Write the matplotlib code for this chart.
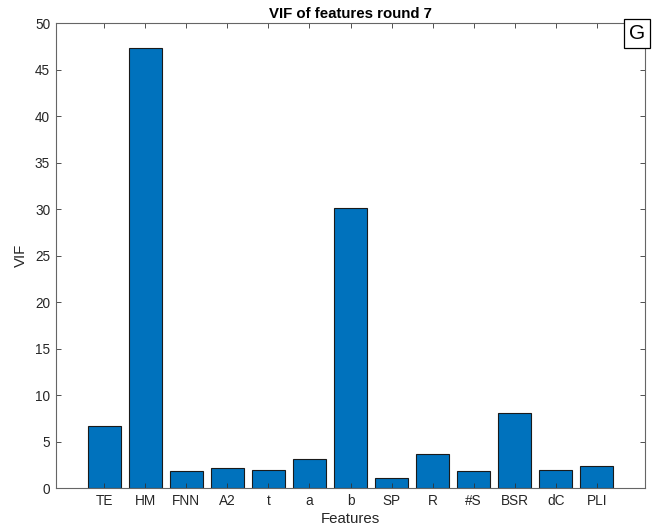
import numpy as np
import matplotlib
matplotlib.use("Agg")
import matplotlib.pyplot as plt

# VIF values per feature, round 7
features = ["TE", "HM", "FNN", "A2", "t", "a", "b", "SP", "R", "#S", "BSR", "dC", "PLI"]
vif = [6.68, 47.38, 1.86, 2.15, 2.0, 3.18, 30.15, 1.14, 3.68, 1.86, 8.05, 2.0, 2.39]

plt.rcParams.update({
    "font.family": ["Liberation Sans", "DejaVu Sans"],
    "font.size": 9,
    "xtick.direction": "in", "ytick.direction": "in",
    "xtick.top": True, "ytick.right": True,
})

fig = plt.figure(figsize=(6.56, 5.31), dpi=100)
ax = fig.add_axes([0.0849, 0.0804, 0.8988, 0.8757])

pos = np.arange(1, len(features) + 1)
ax.bar(pos, vif, width=0.8, color="#0072BD", edgecolor="#1a1a1a", linewidth=0.8)

ax.set_xlim(-0.185, 14.185)
ax.set_ylim(0, 50)
ax.set_xticks(pos)
ax.set_xticklabels(features)
ax.set_yticks(np.arange(0, 51, 5))
ax.tick_params(length=3.5, width=0.6, color="#333333", labelcolor="#262626",
               labelsize=9.8, pad=4)
for s in ax.spines.values():
    s.set_color("#666666")
    s.set_linewidth(0.8)

ax.set_title("VIF of features round 7", fontsize=10.8, fontweight="bold", pad=4)
ax.set_xlabel("Features", fontsize=10.8, color="#262626", labelpad=3)
ax.set_ylabel("VIF", fontsize=10.8, color="#262626", labelpad=5)

ax.text(0.9995, 0.999, "G", transform=ax.transAxes, ha="right", va="top",
        fontsize=15, zorder=5,
        bbox=dict(facecolor="white", edgecolor="black", linewidth=0.9,
                  boxstyle="square,pad=0.25"))

fig.savefig("out.png", dpi=100)
